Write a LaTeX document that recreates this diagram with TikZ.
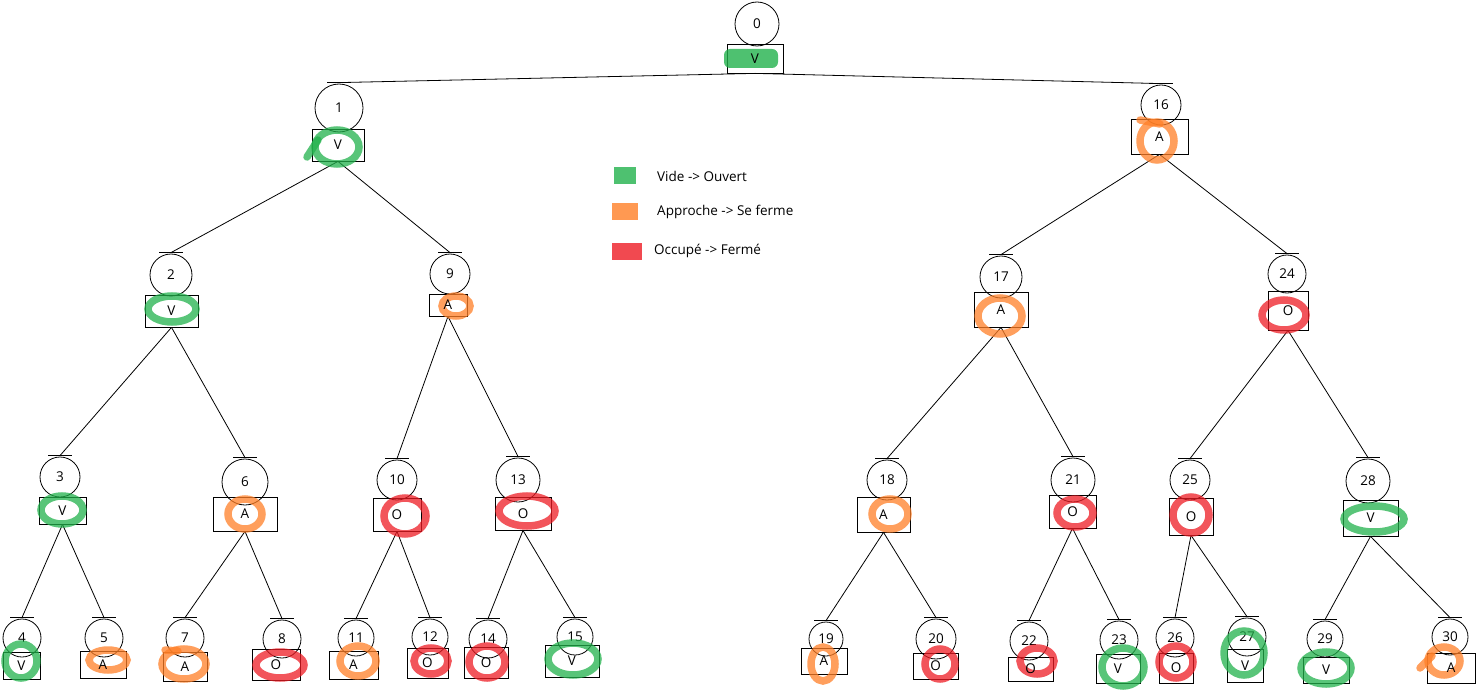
\documentclass[tikz,border=0pt]{standalone}
\usepackage{fontspec}
\setmainfont{Open Sans}
\definecolor{pgreen}{RGB}{34,177,76}
\definecolor{porange}{RGB}{255,127,39}
\definecolor{pred}{RGB}{237,28,36}
\tikzset{
  numc/.style={draw, circle, inner sep=0pt, line width=0.8pt, font=\fontsize{13.5}{13.5}\selectfont},
  lbox/.style={draw, rectangle, inner sep=0pt, line width=0.8pt},
  edge/.style={line width=0.8pt},
  scrib/.style={line width=7.5pt, draw=#1, draw opacity=0.75, line cap=round},
  smear/.style={fill=#1, fill opacity=0.8},
  legtext/.style={anchor=west, inner sep=0pt, font=\fontsize{13.5}{13.5}\selectfont}
}
\newcommand\tnode[9]{%
  \node[numc, minimum size={2*#4}] (c#1) at (#2,#3) {#1};
  \node[lbox, minimum width={#7-#5}, minimum height={#8-#6}] (b#1) at ({(#5+#7)/2},{(#6+#8)/2}) {};
  \coordinate (t#1) at ({(#5+#7)/2},{(#6+#8)/2});
  \expandafter\def\csname letter#1\endcsname{#9}%
}
\newcommand\putletter[1]{\node[inner sep=0pt, font=\fontsize{13.5}{13.5}\selectfont] (l#1) at (t#1) {\csname letter#1\endcsname};}
\newcommand\tick[1]{\draw[edge] ([xshift=-12pt,yshift=1pt]c#1.north) -- ([xshift=12pt,yshift=1pt]c#1.north);}
\begin{document}
\begin{tikzpicture}[x=1pt, y=-1pt]
\useasboundingbox (0,0) rectangle (1482,695);
% nodes: id, cx, cy, r, x1, y1, x2, y2, letter
\tnode{0}{757}{24}{22}{727}{44}{783}{73}{V}
\tnode{1}{339}{108}{24}{312}{129}{364}{161}{V}
\tnode{16}{1161}{105}{20}{1131}{119}{1188}{154}{A}
\tnode{2}{171}{275}{21}{145}{295}{198}{327}{V}
\tnode{9}{450}{274}{20}{429}{294}{467}{316}{A}
\tnode{17}{1001}{277}{21}{974}{292}{1028}{327}{A}
\tnode{24}{1287}{274}{19}{1268}{291}{1308}{330}{O}
\tnode{3}{60}{477}{20}{39}{497}{86}{524}{V}
\tnode{6}{245}{482}{23}{213}{497}{277}{531}{A}
\tnode{10}{397}{480}{20}{373}{498}{421}{531}{O}
\tnode{13}{518}{480}{22}{495}{497}{551}{530}{O}
\tnode{18}{887}{480}{20}{857}{497}{910}{532}{A}
\tnode{21}{1073}{480}{22}{1049}{495}{1096}{528}{O}
\tnode{25}{1190}{480}{20}{1169}{498}{1213}{535}{O}
\tnode{28}{1368}{481}{22}{1343}{500}{1398}{536}{V}
\tnode{4}{22}{638}{19}{3}{652}{40}{679}{V}
\tnode{5}{104}{638}{19}{80}{651}{126}{678}{A}
\tnode{7}{185}{638}{19}{163}{652}{207}{681}{A}
\tnode{8}{282}{639}{19}{252}{649}{300}{680}{O}
\tnode{11}{356}{638}{18}{329}{651}{378}{679}{A}
\tnode{12}{430}{637}{18}{407}{648}{448}{678}{O}
\tnode{14}{488}{639}{19}{464}{647}{508}{678}{O}
\tnode{15}{575}{637}{18}{545}{645}{599}{677}{V}
\tnode{19}{826}{639}{17}{801}{648}{847}{674}{A}
\tnode{20}{936}{639}{20}{913}{653}{958}{679}{O}
\tnode{22}{1029}{641}{19}{1008}{657}{1053}{681}{O}
\tnode{23}{1119}{640}{19}{1096}{654}{1140}{683}{V}
\tnode{26}{1175}{638}{19}{1159}{653}{1193}{683}{O}
\tnode{27}{1247}{637}{19}{1227}{649}{1263}{682}{V}
\tnode{29}{1325}{639}{18}{1303}{657}{1349}{683}{V}
\tnode{30}{1450}{637}{18}{1427}{653}{1475}{683}{A}
% edges
\foreach \p/\c in {0/1,0/16,1/2,1/9,2/3,2/6,3/4,3/5,6/7,6/8,9/10,9/13,10/11,10/12,13/14,13/15,
                   16/17,16/24,17/18,17/21,18/19,18/20,21/22,21/23,24/25,24/28,25/26,25/27,28/29,28/30}{
  \draw[edge] (b\p.south) -- ([yshift=1pt]c\c.north);
}
\foreach \n in {1,2,3,4,5,6,7,8,9,10,11,12,13,14,15,16,17,18,19,20,21,22,23,24,25,26,27,28,29,30}{
  \tick{\n}
}
% highlights
\fill[smear=pgreen, rounded corners=6pt] (724,49) rectangle (778,68);
\draw[scrib=pgreen] (337,147) ellipse [x radius=22, y radius=17];
\draw[scrib=pgreen] (318,140) -- (307,157);
\draw[scrib=porange] (1157,141) ellipse [x radius=17, y radius=19];
\draw[scrib=porange] (1140,120) -- (1160,124);
\draw[scrib=pgreen] (172,309) ellipse [x radius=24, y radius=13];
\draw[scrib=porange] (456,306) ellipse [x radius=14, y radius=10];
\draw[scrib=porange] (1000,316) ellipse [x radius=22, y radius=18];
\draw[scrib=pred] (1284,315) ellipse [x radius=22, y radius=15];
\draw[scrib=pgreen] (62,510) ellipse [x radius=21, y radius=14];
\draw[scrib=porange] (245,514) ellipse [x radius=17, y radius=15];
\draw[scrib=pred] (405,516) ellipse [x radius=21, y radius=18];
\draw[scrib=pred] (527,511) ellipse [x radius=28, y radius=15];
\draw[scrib=porange] (890,514) ellipse [x radius=18, y radius=15];
\draw[scrib=pred] (1075,513) ellipse [x radius=18, y radius=14];
\draw[scrib=pred] (1191,515) ellipse [x radius=18, y radius=18];
\draw[scrib=pgreen] (1374,519) ellipse [x radius=30, y radius=13];
\draw[scrib=pgreen] (21,661) ellipse [x radius=16, y radius=17];
\draw[scrib=porange] (108,660) ellipse [x radius=19, y radius=10];
\draw[scrib=porange] (184,664) ellipse [x radius=22, y radius=15];
\draw[scrib=porange] (165,650) -- (178,651);
\draw[scrib=pred] (280,665) ellipse [x radius=24, y radius=13];
\draw[scrib=porange] (358,661) ellipse [x radius=18, y radius=15];
\draw[scrib=pred] (431,661) ellipse [x radius=17, y radius=13];
\draw[scrib=pred] (487,662) ellipse [x radius=18, y radius=16];
\draw[scrib=pgreen] (573,659) ellipse [x radius=25, y radius=16];
\draw[scrib=porange] (823,664) ellipse [x radius=12, y radius=17];
\draw[scrib=pred] (940,664) ellipse [x radius=15, y radius=15];
\draw[scrib=pred] (1037,661) ellipse [x radius=17, y radius=13];
\draw[scrib=pgreen] (1123,667) ellipse [x radius=21, y radius=19];
\draw[scrib=pred] (1176,662) ellipse [x radius=17, y radius=16];
\draw[scrib=pgreen] (1244,653) ellipse [x radius=20, y radius=22];
\draw[scrib=pgreen] (1326,668) ellipse [x radius=25, y radius=16];
\draw[scrib=porange] (1444,661) ellipse [x radius=16, y radius=14];
\draw[scrib=porange] (1420,668) -- (1432,656);
% letters on top
\foreach \n in {0,1,2,3,4,5,6,7,8,9,10,11,12,13,14,15,16,17,18,19,20,21,22,23,24,25,26,27,28,29,30}{
  \putletter{\n}
}
% legend
\fill[smear=pgreen] (614,167) rectangle (636,184);
\fill[smear=porange] (612,203) rectangle (638,220);
\fill[smear=pred] (612,243) rectangle (642,260);
\node[legtext] (lg1) at (657,176) {Vide -> Ouvert};
\node[legtext] (lg2) at (657,212) {Approche -> Se ferme};
\node[legtext] (lg3) at (654,251) {Occupé -> Fermé};
\end{tikzpicture}
\end{document}
